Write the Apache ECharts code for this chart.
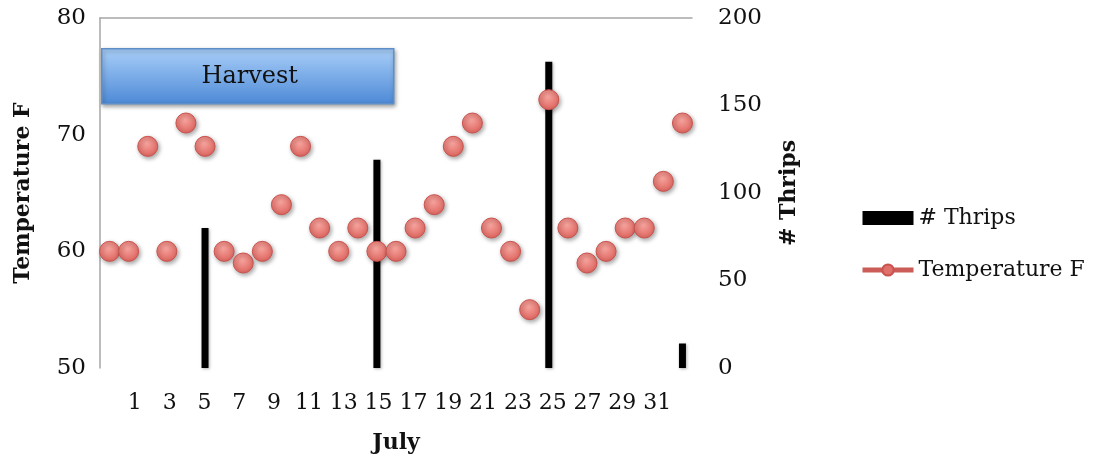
<!DOCTYPE html>
<html>
<head>
<meta charset="utf-8">
<script src="https://cdn.jsdelivr.net/npm/echarts@6/dist/echarts.min.js"></script>
<style>
  html, body { margin: 0; padding: 0; background: #fff; }
  #chart { width: 1094px; height: 462px; }
</style>
</head>
<body>
<div id="chart"></div>
<script>
// ---- data ----
const days = ['1','2','3','4','5','6','7','8','9','10','11','12','13','14','15','16','17','18','19','20','21','22','23','24','25','26','27','28','29','30','31'];
const temperatureF = [60,60,69,60,71,69,60,59,60,64,69,62,60,62,60,60,62,64,69,71,62,60,55,73,62,59,60,62,62,66,71];
const thrips = [null,null,null,null,null,80,null,null,null,null,null,null,null,null,119,null,null,null,null,null,null,null,null,175,null,null,null,null,null,null,14];
const dayTickLabels = [1,3,5,7,9,11,13,15,17,19,21,23,25,27,29,31];
const tempTicks = [50,60,70,80];
const thripsTicks = [0,50,100,150,200];

const FONT = 'DejaVu Serif';
const chart = echarts.init(document.getElementById('chart'), null, { renderer: 'canvas' });

const option = {
  animation: false,
  backgroundColor: '#ffffff',
  textStyle: { fontFamily: FONT },
  grid: { left: 100, right: 402, top: 18, bottom: 94, containLabel: false },
  legend: {
    orient: 'vertical',
    left: 855,
    top: 202,
    itemWidth: 51,
    itemHeight: 14,
    itemGap: 30,
    textStyle: { fontFamily: FONT, fontSize: 22, color: '#111' },
    data: [
      { name: '# Thrips', icon: 'rect', itemStyle: { color: '#000', shadowBlur: 0 } },
      { name: 'Temperature F', lineStyle: { width: 5, color: '#cc5c57', opacity: 1 }, itemStyle: { color: '#e0706a', borderColor: '#c9534e', opacity: 1 } }
    ]
  },
  xAxis: [
    {
      type: 'category',
      data: days,
      position: 'top',
      boundaryGap: true,
      axisLine: { show: true, onZero: false, lineStyle: { color: '#a6a6a6', width: 1.5 } },
      axisTick: { show: false },
      axisLabel: { show: false },
      splitLine: { show: false }
    },
    {
      type: 'value',
      position: 'bottom',
      min: -1,
      max: 33,
      interval: 2,
      axisLine: { show: false, onZero: false },
      axisTick: { show: false },
      splitLine: { show: false },
      axisLabel: {
        fontFamily: FONT, fontSize: 22, color: '#111', margin: 24,
        formatter: v => dayTickLabels.indexOf(v) >= 0 ? String(v) : ''
      },
      name: 'July',
      nameLocation: 'middle',
      nameGap: 64,
      nameTextStyle: { fontFamily: FONT, fontSize: 22, fontWeight: 'bold', color: '#111' }
    }
  ],
  yAxis: [
    {
      type: 'value',
      min: tempTicks[0],
      max: tempTicks[tempTicks.length - 1],
      interval: 10,
      position: 'left',
      axisLine: { show: true, onZero: false, lineStyle: { color: '#a6a6a6', width: 1.5 } },
      axisTick: { show: false },
      splitLine: { show: false },
      axisLabel: { fontFamily: FONT, fontSize: 23, color: '#111', margin: 14 },
      name: 'Temperature F',
      nameLocation: 'middle',
      nameRotate: 90,
      nameGap: 66,
      nameTextStyle: { fontFamily: FONT, fontSize: 22, fontWeight: 'bold', color: '#111' }
    },
    {
      type: 'value',
      min: thripsTicks[0],
      max: thripsTicks[thripsTicks.length - 1],
      interval: 50,
      position: 'right',
      axisLine: { show: false, onZero: false },
      axisTick: { show: false },
      splitLine: { show: false },
      axisLabel: { fontFamily: FONT, fontSize: 23, color: '#111', margin: 26, align: 'left' },
      name: '# Thrips',
      nameLocation: 'middle',
      nameRotate: 90,
      nameGap: 86,
      nameTextStyle: { fontFamily: FONT, fontSize: 22, fontWeight: 'bold', color: '#111' }
    }
  ],
  graphic: [
    {
      type: 'group',
      left: 101,
      top: 48,
      children: [
        {
          type: 'rect',
          shape: { x: 0, y: 0, width: 292, height: 55 },
          style: {
            fill: new echarts.graphic.LinearGradient(0, 0, 0, 1, [
              { offset: 0, color: '#a9cff9' },
              { offset: 1, color: '#4d89d6' }
            ]),
            stroke: '#5f8fc8',
            lineWidth: 1.5,
            shadowBlur: 4,
            shadowOffsetX: 1,
            shadowOffsetY: 2,
            shadowColor: 'rgba(0,0,0,0.35)'
          }
        },
        {
          type: 'text',
          x: 148,
          y: 28,
          style: {
            text: 'Harvest',
            fontFamily: FONT,
            fontSize: 24,
            fill: '#111',
            align: 'center',
            verticalAlign: 'middle'
          }
        }
      ]
    }
  ],
  series: [
    {
      name: '# Thrips',
      type: 'bar',
      xAxisIndex: 0,
      yAxisIndex: 1,
      data: thrips,
      barWidth: 7,
      z: 2,
      itemStyle: {
        color: '#000',
        shadowBlur: 3,
        shadowOffsetX: 1,
        shadowOffsetY: 1,
        shadowColor: 'rgba(0,0,0,0.3)'
      }
    },
    {
      name: 'Temperature F',
      type: 'line',
      xAxisIndex: 0,
      yAxisIndex: 0,
      data: temperatureF,
      symbol: 'circle',
      symbolSize: 20,
      showSymbol: true,
      showAllSymbol: true,
      z: 5,
      lineStyle: { width: 0, opacity: 0, color: '#cc5c57' },
      itemStyle: {
        color: new echarts.graphic.RadialGradient(0.45, 0.35, 0.7, [
          { offset: 0, color: '#f6a49e' },
          { offset: 1, color: '#dc5f59' }
        ]),
        borderColor: '#c9534e',
        borderWidth: 1,
        opacity: 1,
        shadowBlur: 4,
        shadowOffsetX: 1.5,
        shadowOffsetY: 2,
        shadowColor: 'rgba(0,0,0,0.35)'
      },
      emphasis: { disabled: true }
    }
  ]
};
chart.setOption(option);
</script>
</body>
</html>
